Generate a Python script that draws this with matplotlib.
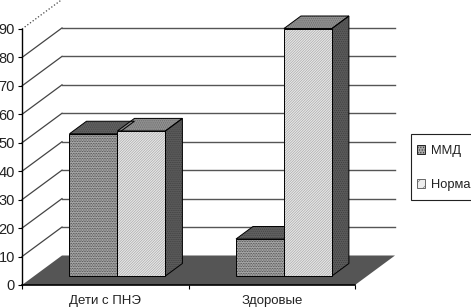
import matplotlib
matplotlib.use("Agg")
import matplotlib.pyplot as plt
from matplotlib.patches import Polygon, Patch, Rectangle

plt.rcParams['font.family'] = ['Liberation Sans', 'DejaVu Sans']
plt.rcParams['hatch.linewidth'] = 0.4

categories = ["Дети с ПНЭ", "Здоровые"]
series_names = ["ММД", "Норма"]
mmd = [50, 13]
norma = [51, 87]
y_ticks = [0, 10, 20, 30, 40, 50, 60, 70, 80, 90]

W, H = 471, 308
fig = plt.figure(figsize=(W / 100, H / 100), dpi=100)
ax = fig.add_axes([22 / W, 1 - 285 / H, 333 / W, 256 / H])
ax.set_xlim(-0.5, 1.5)
ax.set_ylim(0, 90)

# fake 3d: how far the back wall is shifted, in data units
depth_x = 40 / 166.5
depth_y = 29.5 / 2.844
bar_w = 0.288
d0, d1 = 0.305, 0.73


def shift(x, y, d):
    return (x + d * depth_x, y + d * depth_y)


def face(pts, fc, hatch=None, hc="black", ec="black", lw=0.7, z=3):
    p = Polygon(pts, closed=True, facecolor=fc, edgecolor=hc if hatch else ec,
                hatch=hatch, lw=0, zorder=z, clip_on=False)
    ax.add_patch(p)
    p2 = Polygon(pts, closed=True, fill=False, edgecolor=ec, lw=lw, zorder=z + 0.1, clip_on=False)
    ax.add_patch(p2)


# floor
face([(-0.5, 0), shift(-0.5, 0, 1), shift(1.5, 0, 1), (1.5, 0)], "#555555", lw=0, ec="#555555", z=1)

# gridlines on side and back wall
for v in y_ticks[1:]:
    style = ":" if v == 90 else "-"
    x0, y0 = shift(-0.5, v, 1)
    ax.plot([-0.5, x0], [v, y0], color="#444444", lw=0.9, ls=style, zorder=1, clip_on=False)
for v in y_ticks[:-1]:
    x0, y0 = shift(-0.5, v, 1)
    x1, y1 = shift(1.5, v, 1)
    if v > 0:
        ax.plot([x0, x1], [y0, y1], color="#555555", lw=1.0, zorder=1, clip_on=False)


def bar3d(left, val, fc, hatch, hc, top_c, top_hc, side=True):
    r = left + bar_w
    b0 = shift(left, 0, d0)
    b1 = shift(r, 0, d0)
    t0 = shift(left, val, d0)
    t1 = shift(r, val, d0)
    if side:
        face([b1, t1, shift(r, val, d1), shift(r, 0, d1)], "#5a5a5a", "........", "#3a3a3a", z=3)
    face([t0, t1, shift(r, val, d1), shift(left, val, d1)], top_c, "........", top_hc, z=3)
    face([b0, b1, t1, t0], fc, hatch, hc, z=4)


for i in range(len(categories)):
    bar3d(i - bar_w, mmd[i], "#a8a8a8", "..........", "#303030", "#606060", "#404040", side=False)
    bar3d(i, norma[i], "#e6e6e6", "/////////////", "#a0a0a0", "#909090", "#606060")

ax.spines["top"].set_visible(False)
ax.spines["right"].set_visible(False)
ax.spines["left"].set_linewidth(1.0)
ax.spines["bottom"].set_linewidth(1.2)
for s in ax.spines.values():
    s.set_zorder(6)
ax.set_yticks(y_ticks)
ax.set_xticks([-0.5, 0.5, 1.5])
ax.set_xticklabels([])
ax.set_xticks([0, 1], categories, minor=True)
ax.tick_params(axis="x", which="minor", length=0, labelsize=9.5, pad=7, colors="#222222")
ax.tick_params(axis="x", which="major", length=3, width=0.8)
ax.tick_params(axis="y", length=3, width=0.8, labelsize=10.5, pad=2, labelcolor="#222222")
ax.patch.set_visible(False)

# legend box runs off the right edge in the reference
fig.add_artist(Rectangle((411 / W, 1 - 200 / H), 70 / W, 66 / H, transform=fig.transFigure,
                         facecolor="white", edgecolor="#222222", lw=0.8))
handles = [Patch(facecolor="#a8a8a8", edgecolor="#222222", hatch="......", lw=0.7),
           Patch(facecolor="#ededed", edgecolor="#666666", hatch="///", lw=0.7)]
leg = fig.legend(handles, series_names, loc="upper left", bbox_to_anchor=(417 / W, 1 - 145 / H),
                 bbox_transform=fig.transFigure, borderaxespad=0, borderpad=0, fontsize=9.3,
                 frameon=False, handlelength=0.65, handleheight=0.65, handletextpad=0.45,
                 labelspacing=1.7, labelcolor="#222222")

fig.savefig("out.png", dpi=100)
